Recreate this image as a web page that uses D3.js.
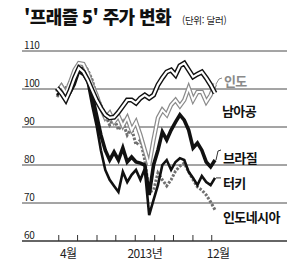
<!DOCTYPE html>
<html lang="ko">
<head>
<meta charset="utf-8">
<title>프래즐 5 주가 변화</title>
<script src="https://cdn.jsdelivr.net/npm/d3@7"></script>
<style>
  body { margin: 0; background: #fff; }
  text { font-family: "Noto Sans CJK KR", sans-serif; }
</style>
</head>
<body>
<script>
    // weekly points, 2013
    var weeks = ["3/30","4/6","4/13","4/20","4/27","5/4","5/11","5/18","5/25","6/1","6/8","6/15",
                 "6/22","6/29","7/6","7/13","7/20","7/27","8/3","8/10","8/17","8/24","8/31","9/7",
                 "9/14","9/21","9/28","10/5","10/12","10/19","10/26","11/2","11/9","11/16","11/23","11/30","12/7"];

    var southAfrica = [100.3,98.9,97.1,99.7,102.9,105.5,104.5,102.4,99.7,97.1,95.0,93.2,92.4,92.6,93.9,95.5,97.1,97.1,96.3,97.6,
                       98.4,97.6,98.4,101.1,102.9,104.5,105.0,103.7,106.1,106.8,105.0,103.2,103.9,104.5,102.9,101.1,98.9];
    var india = [99.2,100.8,98.9,101.8,105.0,106.8,106.6,104.2,101.1,98.4,95.0,92.4,93.7,91.3,92.9,90.3,92.4,89.2,91.3,87.9,
                 83.9,80.0,86.6,92.4,94.5,93.2,95.8,97.1,95.5,97.1,100.3,97.1,99.2,99.2,96.6,98.4,101.3];
    var brazil = [99.2,100.8,98.7,101.1,103.4,105.0,105.5,103.7,98.4,93.2,87.9,83.9,81.3,83.4,81.3,84.5,80.8,82.1,80.8,80.5,
                  80.0,72.1,80.0,83.9,88.7,86.6,89.2,91.3,93.2,91.8,89.2,84.5,85.8,83.9,80.8,79.5,81.3];
    var turkey = [98.4,99.7,97.1,98.9,101.1,104.5,103.7,101.8,95.8,90.5,83.9,78.7,76.1,74.5,72.9,78.2,75.5,77.4,78.7,76.1,
                  79.0,66.8,70.8,74.7,80.0,81.3,78.7,80.8,81.8,81.3,78.2,76.6,74.7,77.1,75.5,74.7,76.6];
    var indonesia = [97.9,99.7,100.3,101.6,103.7,105.5,106.6,105.0,102.4,98.4,95.8,93.2,90.5,92.4,89.2,91.3,87.9,89.7,85.3,86.6,
                     81.3,72.9,73.4,77.9,76.1,74.5,76.1,78.4,79.7,80.5,78.2,76.1,74.2,73.4,72.1,70.3,68.2];

    var yTicks = [60, 70, 80, 90, 100, 110];
    var monthTicks = ["2013-04-01","2013-05-01","2013-06-01","2013-07-01","2013-08-01",
                      "2013-09-01","2013-10-01","2013-11-01","2013-12-01"];
    var xLabels = [["2013-04-17", "4월"], ["2013-08-17", "2013년"], ["2013-12-12", "12월"]];

    var width = 300, height = 267;
    var left = 22, right = 287;
    var parseWeek = function(s) { return new Date(2013, +s.split("/")[0] - 1, +s.split("/")[1]); };
    var parseDay = d3.timeParse("%Y-%m-%d");

    var x = d3.scaleTime()
        .domain([new Date(2013, 2, 30), new Date(2013, 11, 7)])
        .range([57, 215]);
    var y = d3.scaleLinear().domain([60, 110]).range([241, 51]);

    var svg = d3.select("body").append("svg")
        .attr("width", width)
        .attr("height", height);

    // title
    svg.append("text")
        .attr("x", 24).attr("y", 24)
        .attr("font-size", 18).attr("font-weight", 900)
        .attr("letter-spacing", -0.6)
        .attr("fill", "#111")
        .text("'프래즐 5' 주가 변화");
    svg.append("text")
        .attr("x", 182).attr("y", 24)
        .attr("font-size", 9.5).attr("fill", "#222")
        .attr("letter-spacing", -0.3)
        .text("(단위: 달러)");

    // grid + y labels
    svg.selectAll("line.grid")
        .data(yTicks.filter(function(d) { return d > 60; }))
        .enter().append("line")
        .attr("class", "grid")
        .attr("x1", left).attr("x2", right)
        .attr("y1", function(d) { return y(d); })
        .attr("y2", function(d) { return y(d); })
        .attr("stroke", "#4a4a4a").attr("stroke-width", 1);

    svg.selectAll("text.ylab")
        .data(yTicks)
        .enter().append("text")
        .attr("class", "ylab")
        .attr("x", 24)
        .attr("y", function(d) { return y(d) - 2; })
        .attr("font-family", "'Liberation Sans Narrow', 'DejaVu Sans Condensed', sans-serif")
        .attr("font-size", 10)
        .attr("letter-spacing", -0.4)
        .attr("fill", "#222")
        .text(function(d) { return d; });

    // x axis
    var xAxis = svg.append("g")
        .attr("transform", "translate(0," + y(60) + ")")
        .call(d3.axisTop(x)
            .tickValues(monthTicks.map(parseDay))
            .tickSize(6)
            .tickFormat(""));
    xAxis.select(".domain").remove();
    xAxis.selectAll(".tick line").attr("stroke", "#333").attr("stroke-width", 1);
    svg.append("line")
        .attr("x1", left).attr("x2", right)
        .attr("y1", y(60)).attr("y2", y(60))
        .attr("stroke", "#333").attr("stroke-width", 1.5);

    svg.selectAll("text.xlab")
        .data(xLabels)
        .enter().append("text")
        .attr("class", "xlab")
        .attr("x", function(d) { return x(parseDay(d[0])); })
        .attr("y", 258)
        .attr("text-anchor", "middle")
        .attr("font-size", 12)
        .attr("letter-spacing", -0.6)
        .attr("fill", "#222")
        .text(function(d) { return d[1]; });

    var dates = weeks.map(parseWeek);
    var line = d3.line()
        .x(function(d, i) { return x(dates[i]); })
        .y(function(d) { return y(d); });

    function draw(data, color, w, dash) {
        var p = svg.append("path")
            .datum(data)
            .attr("d", line)
            .attr("fill", "none")
            .attr("stroke", color)
            .attr("stroke-width", w)
            .attr("stroke-linejoin", "miter");
        if (dash) p.attr("stroke-dasharray", dash);
        return p;
    }

    draw(indonesia, "#707070", 3, "2.5,1.5");
    draw(turkey, "#111", 2.6);
    draw(brazil, "#111", 3.6);
    draw(india, "#8a8a8a", 4.4);
    draw(india, "#fff", 2);
    draw(southAfrica, "#111", 5);
    draw(southAfrica, "#fff", 2.2);

    // series labels
    var labels = [
        { text: "인도", x: 224, y: 86, color: "#8a8a8a" },
        { text: "남아공", x: 222, y: 116, color: "#111" },
        { text: "브라질", x: 223, y: 163, color: "#111" },
        { text: "터키", x: 223, y: 188, color: "#111" },
        { text: "인도네시아", x: 223, y: 222, color: "#111" }
    ];
    svg.selectAll("text.slab")
        .data(labels)
        .enter().append("text")
        .attr("class", "slab")
        .attr("x", function(d) { return d.x; })
        .attr("y", function(d) { return d.y; })
        .attr("font-size", 13)
        .attr("font-weight", 700)
        .attr("letter-spacing", -0.6)
        .attr("fill", function(d) { return d.color; })
        .text(function(d) { return d.text; });

    // small leader ticks
    var n = dates.length - 1;
    var leaders = [
        [[x(dates[n]) + 1, y(india[n])], [219, 79], [222, 78], "#8a8a8a"],
        [[x(dates[n]) + 1, y(brazil[n])], [218, 151], [221, 150], "#333"],
        [[x(dates[n]) + 1, y(turkey[n])], [221, y(turkey[n])], [221, y(turkey[n])], "#333"]
    ];
    svg.selectAll("path.leader")
        .data(leaders)
        .enter().append("path")
        .attr("class", "leader")
        .attr("d", function(d) { return d3.line()(d.slice(0, 3)); })
        .attr("fill", "none")
        .attr("stroke", function(d) { return d[3]; })
        .attr("stroke-width", 1);
</script>
</body>
</html>
